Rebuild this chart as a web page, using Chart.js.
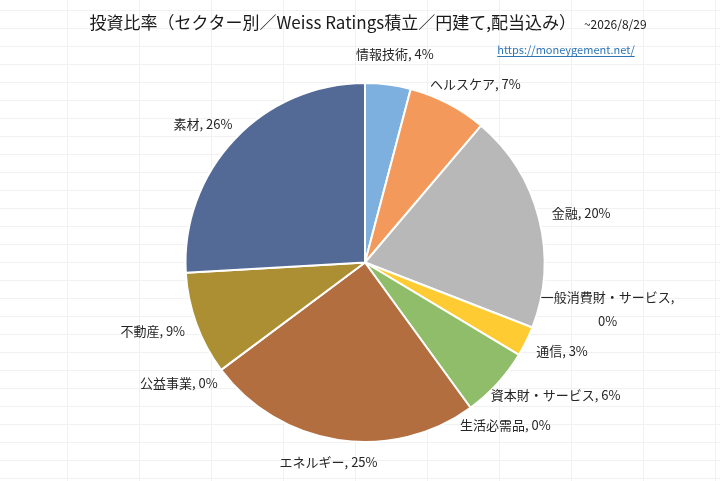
<!DOCTYPE html>
<html>
<head>
<meta charset="utf-8">
<script src="https://cdn.jsdelivr.net/npm/chart.js@4.4.1/dist/chart.umd.min.js"></script>
<style>
  html, body { margin: 0; padding: 0; background: #fff; }
</style>
</head>
<body>
<canvas id="myChart" width="720" height="481"></canvas>
<script>
const ctx = document.getElementById('myChart');

let sectors = ['情報技術', 'ヘルスケア', '金融', '一般消費財・サービス', '通信', '資本財・サービス',
               '生活必需品', 'エネルギー', '公益事業', '不動産', '素材'];
let shares  = [4.1, 7.1, 19.7, 0, 2.7, 6.4, 0, 24.8, 0, 9.3, 25.9];
let colors  = ['#7eb0df', '#f2995b', '#b8b8b8', '#ffcb33', '#ffcb33', '#8fbd6a',
               '#6f8fcf', '#b26e3f', '#8c8c8c', '#ad8f33', '#536a97'];

let titleText = '投資比率（セクター別／Weiss Ratings積立／円建て,配当込み）';
let dateText  = '~2026/8/29';
let linkText  = 'https://moneygement.net/';

const FONT = '"Noto Sans CJK JP", "Noto Sans", sans-serif';

// faint spreadsheet grid behind the chart
const sheetGrid = {
  id: 'sheetGrid',
  beforeDraw(chart) {
    const c = chart.ctx;
    c.save();
    c.fillStyle = '#fff';
    c.fillRect(0, 0, chart.width, chart.height);
    c.strokeStyle = '#f1f1f1';
    c.lineWidth = 1;
    c.beginPath();
    for (let x = -5; x < chart.width; x += 72) {
      c.moveTo(x + 0.5, 0); c.lineTo(x + 0.5, chart.height);
    }
    for (let y = 10; y < chart.height; y += 18) {
      c.moveTo(0, y + 0.5); c.lineTo(chart.width, y + 0.5);
    }
    c.stroke();
    c.restore();
  }
};

// title, date and link text
const headerText = {
  id: 'headerText',
  afterDraw(chart) {
    const c = chart.ctx;
    c.save();
    c.textBaseline = 'alphabetic';
    c.font = '17px ' + FONT;
    const w1 = c.measureText(titleText).width;
    c.font = '12px ' + FONT;
    const w2 = c.measureText(dateText).width;
    const gap = 8;
    let x = 368 - (w1 + gap + w2) / 2;
    c.fillStyle = '#1a1a1a';
    c.textAlign = 'left';
    c.font = '17px ' + FONT;
    c.fillText(titleText, x, 29);
    c.font = '12px ' + FONT;
    c.fillText(dateText, x + w1 + gap, 29);

    c.font = '11px ' + FONT;
    c.fillStyle = '#2e75b6';
    c.textAlign = 'center';
    c.fillText(linkText, 566, 54);
    const lw = c.measureText(linkText).width;
    c.strokeStyle = '#2e75b6';
    c.lineWidth = 1;
    c.beginPath();
    c.moveTo(566 - lw / 2, 56.5); c.lineTo(566 + lw / 2, 56.5);
    c.stroke();
    c.restore();
  }
};

// "name, n%" labels placed just outside each slice
const outsideLabels = {
  id: 'outsideLabels',
  afterDatasetsDraw(chart) {
    const c = chart.ctx;
    const meta = chart.getDatasetMeta(0);
    const total = shares.reduce((a, b) => a + b, 0);
    const lineH = 24, textH = 16, gap = 14, pad = 14;
    c.save();
    c.font = '13px ' + FONT;
    const boxes = meta.data.map((arc, i) => {
      const p = arc.getProps(['x', 'y', 'startAngle', 'endAngle', 'outerRadius'], true);
      const mid = (p.startAngle + p.endAngle) / 2;
      const cs = Math.cos(mid), sn = Math.sin(mid);
      const pct = Math.round(shares[i] / total * 100) + '%';
      let lines = [sectors[i] + ', ' + pct];
      if (c.measureText(lines[0]).width > 145) lines = [sectors[i] + ',', pct];
      const w = Math.max(...lines.map(l => c.measureText(l).width));
      const h = textH + (lines.length - 1) * lineH;
      const ax = p.x + (p.outerRadius + gap) * cs;
      const ay = p.y + (p.outerRadius + gap) * sn;
      return { lines, w, h, cx: ax + cs * w / 2, cy: ay + sn * h / 2, right: cs >= 0 };
    });
    // push overlapping labels upward, working from the bottom of each side
    [true, false].forEach(side => {
      const list = boxes.filter(b => b.right === side).sort((a, b) => b.cy - a.cy);
      for (let k = 1; k < list.length; k++) {
        const below = list[k - 1], cur = list[k];
        const limit = below.cy - below.h / 2 - pad;
        if (cur.cy + cur.h / 2 > limit) cur.cy = limit - cur.h / 2;
      }
    });
    c.fillStyle = '#262626';
    c.textAlign = 'center';
    c.textBaseline = 'middle';
    boxes.forEach(b => {
      const top = b.cy - b.h / 2 + textH / 2;
      b.lines.forEach((l, j) => c.fillText(l, b.cx, top + j * lineH));
    });
    c.restore();
  }
};

new Chart(ctx, {
  type: 'pie',
  data: {
    labels: sectors,
    datasets: [{
      data: shares,
      backgroundColor: colors,
      borderColor: '#ffffff',
      borderWidth: 2,
      hoverOffset: 0
    }]
  },
  options: {
    responsive: false,
    animation: false,
    layout: { padding: { top: 82, bottom: 38, left: 100, right: 90 } },
    plugins: {
      legend: { display: false },
      tooltip: { enabled: false }
    }
  },
  plugins: [sheetGrid, headerText, outsideLabels]
});
</script>
</body>
</html>
